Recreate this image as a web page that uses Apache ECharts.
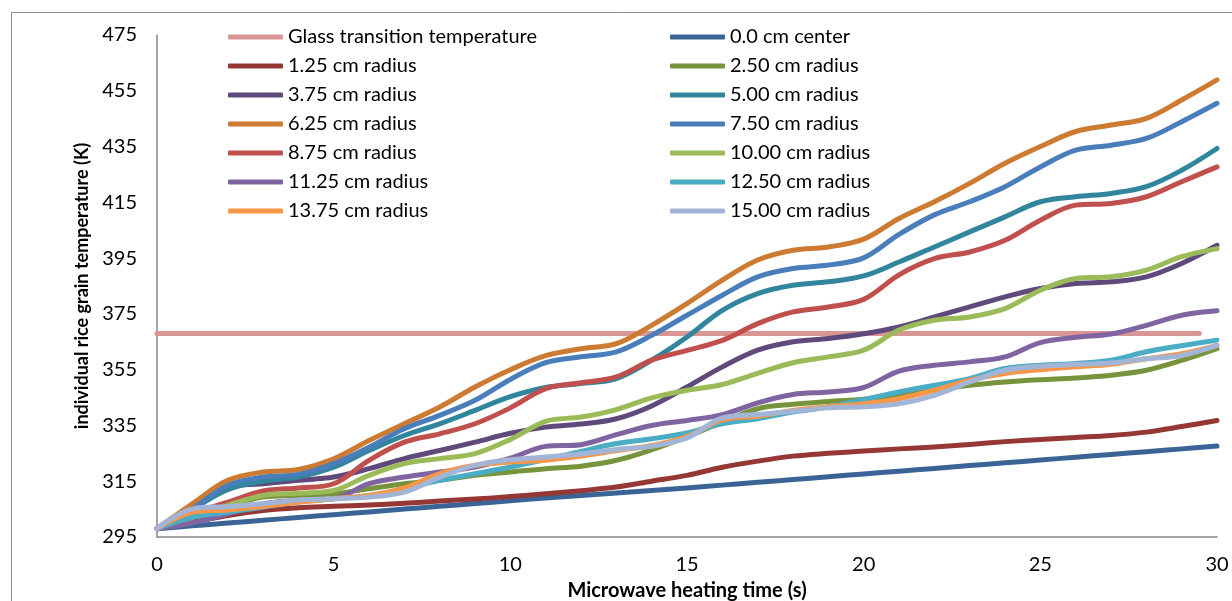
<!DOCTYPE html>
<html>
<head>
<meta charset="utf-8">
<script src="https://cdn.jsdelivr.net/npm/echarts@6/dist/echarts.min.js"></script>
<style>
  html, body { margin: 0; padding: 0; background: #fff; }
  #chart { width: 1232px; height: 601px; }
</style>
</head>
<body>
<div id="chart"></div>
<script>
// heating time (s)
var times = [0,1,2,3,4,5,6,7,8,9,10,11,12,13,14,15,16,17,18,19,20,21,22,23,24,25,26,27,28,29,30];

// glass transition temperature (K), drawn as a flat line
var glassTimes = [0, 29.5];
var glassTemp = [368, 368];

// temperatures (K) per radial position
var r000 = [298,299,300,301,302,303,304,305,306,307,308,309,309.9,310.8,311.7,312.6,313.6,314.6,315.6,316.6,317.6,318.6,319.6,320.6,321.6,322.6,323.6,324.6,325.6,326.6,327.6];
var r125 = [298,300.3,302.7,304.5,305.5,306,306.5,307.1,307.9,308.6,309.5,310.5,311.6,312.9,315,317.1,320,322.2,324,325,325.8,326.6,327.3,328.2,329.2,330,330.7,331.4,332.6,334.6,336.8];
var r250 = [298,302,305.7,309.3,309.9,310.5,312.3,314.1,315.3,317.1,318.3,319.5,320.4,322.5,326.3,331,336.2,341,342.6,343.6,344.4,345.8,347.6,349.4,350.6,351.4,352,353,354.8,358.3,362.5];
var r375 = [298,305,312.9,314.1,315.3,316.5,319.5,323.1,326,329,332.2,334.4,335.5,337.4,342,348.8,356,362,365,366.2,367.9,370.3,373.9,377.5,381.1,384.1,385.9,386.5,388.3,393.1,399.6];
var r500 = [298,305,312,315,316.5,320,326,331.4,335.6,340.4,345.3,348.6,350,351.8,358.4,366.7,376.3,382.3,385.3,386.5,388.6,393.6,399,404.4,409.8,415.2,417,418.2,420.6,426.5,434.3];
var r625 = [298,306.9,315.3,318.3,319.2,323,329.6,335.6,341.6,348.8,355,360,362.5,364.3,370.9,378.7,387.1,394.3,397.8,399,401.8,409.2,415.2,421.8,429,435,440.4,442.7,445.1,451.7,458.9];
var r750 = [298,305.1,313.5,316.5,317.4,321.3,327.2,333.8,338.6,344,351.5,357.5,359.6,361.4,367.3,374.5,381.7,388.3,391.3,392.5,395.1,403.5,410.5,415.2,420.6,427.7,433.7,435.5,437.9,443.9,450.5];
var r875 = [298,303.3,307.5,311.5,312.6,314.1,322.5,329,332,335.6,341.3,348.2,350.3,352.4,358.4,361.9,365.5,371.5,375.7,377.5,380.2,389,394.8,397.2,401.4,408.6,414,414.6,417,422.4,427.7];
var r1000 = [298,302,306.3,309.9,310.7,311.7,317.1,321.3,323.1,324.9,330,336.5,338,340.7,344.9,347.6,349.7,353.7,357.5,359.6,362,369.2,372.7,373.9,376.9,383.5,387.7,388.3,390.7,395.5,398.4];
var r1125 = [298,300,303.3,306.9,308.1,308.7,314.1,316.5,318.3,320.1,323.3,327.5,328.1,331.7,335,336.8,338.9,343.1,346.1,347,348.6,354.5,356.6,357.8,359.6,364.7,366.6,367.8,370.9,374.5,376.1];
var r1250 = [298,302.1,303.9,305.7,307.5,308.7,309.9,312.3,315.3,317.7,320.1,322.8,325.7,328.5,330.2,332.3,335.6,337.4,339.8,341.6,344.3,347,349.4,351.8,355.4,356.6,357.2,358.4,361.4,363.6,365.6];
var r1375 = [298,303.9,304.7,305.9,307.5,308.7,309.9,312.6,317.7,320.7,321.9,322.5,324,326,327.8,331,337,338.3,340.4,341.7,342.8,344.6,347.6,351.2,353.6,355,356,356.9,358.9,360.7,363.7];
var r1500 = [298,305.1,305.9,306.9,308.3,308.7,309.3,311.1,316.5,320.7,322.7,323.7,324.8,326.4,327.5,330.5,337.7,338.9,340.1,341.3,341.7,342.8,345.8,350.6,354.8,356.2,356.9,357.4,358.9,360.1,363.7];

var seriesNames = ['Glass transition temperature','0.0 cm center','1.25 cm radius','2.50 cm radius','3.75 cm radius',
  '5.00 cm radius','6.25 cm radius','7.50 cm radius','8.75 cm radius','10.00 cm radius',
  '11.25 cm radius','12.50 cm radius','13.75 cm radius','15.00 cm radius'];
var seriesColors = ['#D99694','#3B6496','#953735','#77933C','#604A7B','#31859C','#CD7A32','#4A7EBB',
  '#C0504D','#9BBB59','#8064A2','#4BACC6','#F79646','#A3B5D7'];
var radialData = [r000,r125,r250,r375,r500,r625,r750,r875,r1000,r1125,r1250,r1375,r1500];

var font = 'Lato, "Liberation Sans", sans-serif';

function pairs(xs, ys) {
  var out = [];
  for (var i = 0; i < xs.length; i++) out.push([xs[i], ys[i]]);
  return out;
}

var series = [{
  name: seriesNames[0],
  type: 'line',
  data: pairs(glassTimes, glassTemp),
  showSymbol: false,
  color: seriesColors[0],
  lineStyle: { width: 5, color: seriesColors[0], cap: 'round' }
}];
for (var k = 0; k < radialData.length; k++) {
  series.push({
    name: seriesNames[k + 1],
    type: 'line',
    data: pairs(times, radialData[k]),
    smooth: 0.35,
    showSymbol: false,
    color: seriesColors[k + 1],
    lineStyle: { width: 5, color: seriesColors[k + 1], cap: 'round', join: 'round' }
  });
}

// legend reads row by row, two columns
var legendLeft = [], legendRight = [];
for (var j = 0; j < seriesNames.length; j++) {
  (j % 2 === 0 ? legendLeft : legendRight).push(seriesNames[j]);
}

var legendBase = {
  orient: 'vertical',
  top: 21,
  icon: 'roundRect',
  itemWidth: 55,
  itemHeight: 5,
  itemGap: 7,
  selectedMode: false,
  textStyle: { fontFamily: font, fontSize: 20, color: '#000', lineHeight: 22 }
};

var chart = echarts.init(document.getElementById('chart'));
chart.setOption({
  animation: false,
  backgroundColor: '#fff',
  graphic: [{
    type: 'rect',
    shape: { x: 11.5, y: 12.5, width: 1400, height: 800 },
    style: { fill: 'none', stroke: '#8c8c8c', lineWidth: 1 },
    silent: true
  }],
  grid: { left: 157, right: 15, top: 35, bottom: 64, outerBoundsMode: 'none' },
  legend: [
    Object.assign({}, legendBase, { left: 223, data: legendLeft }),
    Object.assign({}, legendBase, { left: 665, data: legendRight })
  ],
  xAxis: {
    type: 'value',
    min: 0, max: 30, interval: 5,
    name: 'Microwave heating time (s)',
    nameLocation: 'middle',
    nameGap: 44,
    nameTextStyle: { fontFamily: font, fontSize: 20, fontWeight: 'bold', color: '#000' },
    axisLine: { lineStyle: { color: '#878787', width: 1.5 } },
    axisTick: { show: false },
    splitLine: { show: false },
    axisLabel: { margin: 18, fontFamily: font, fontSize: 20, color: '#000' }
  },
  yAxis: {
    type: 'value',
    min: 295, max: 475, interval: 20,
    name: 'individual rice grain temperature (K)',
    nameLocation: 'middle',
    nameGap: 66,
    nameTextStyle: { fontFamily: font, fontSize: 18, fontWeight: 'bold', color: '#000' },
    axisLine: { show: true, lineStyle: { color: '#878787', width: 1.5 } },
    axisTick: { show: false },
    splitLine: { show: false },
    axisLabel: { margin: 20, fontFamily: font, fontSize: 20, color: '#000' }
  },
  series: series
});
</script>
</body>
</html>
